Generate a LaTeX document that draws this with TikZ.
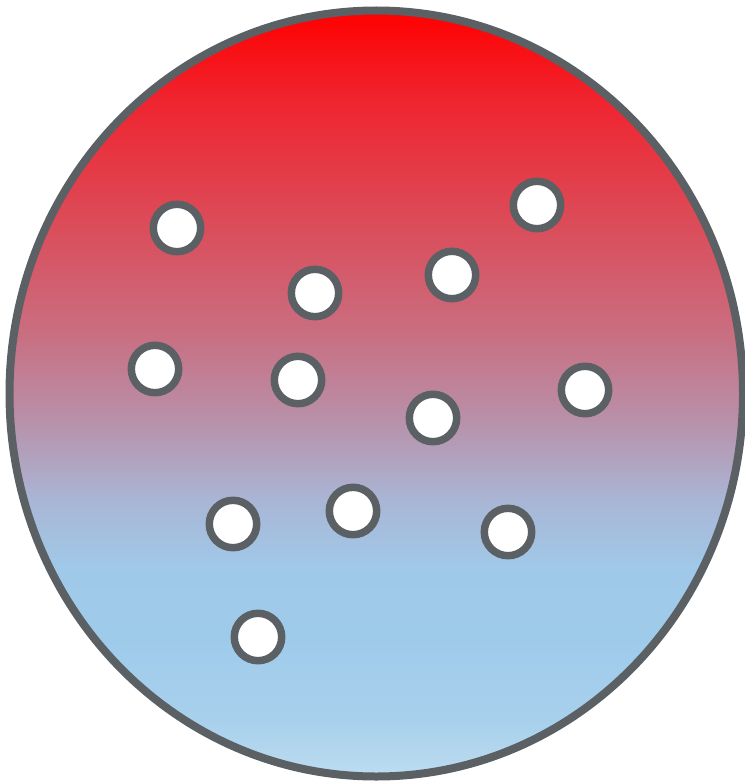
\documentclass[tikz,border=0pt]{standalone}
\definecolor{rimgray}{HTML}{5A6063}
\definecolor{c0}{HTML}{BCDCF0}
\definecolor{c1}{HTML}{A8D0EC}
\definecolor{c2}{HTML}{9FCBEB}
\definecolor{c3}{HTML}{A0C9E9}
\definecolor{c4}{HTML}{A9B6D5}
\definecolor{c5}{HTML}{B891AA}
\definecolor{c6}{HTML}{C96E80}
\definecolor{c7}{HTML}{DF4552}
\definecolor{c8}{HTML}{EF2530}
\definecolor{c9}{HTML}{FF0000}
\pgfdeclareverticalshading{redblue}{100bp}{
 color(0bp)=(c0); color(25bp)=(c0); color(28.7bp)=(c1); color(33.9bp)=(c2);
 color(38.5bp)=(c3); color(43bp)=(c4); color(48.2bp)=(c5); color(54bp)=(c6);
 color(62.5bp)=(c7); color(69bp)=(c8); color(75bp)=(c9); color(100bp)=(c9)}
\tikzset{
  bigdisc/.style={draw=rimgray, line width=8, shading=redblue},
  bubble/.style={circle, draw=rimgray, fill=white, line width=7.5, minimum size=47.4, inner sep=0pt, outer sep=0pt}
}
\begin{document}
\begin{tikzpicture}[x=1pt,y=-1pt]
\useasboundingbox (0,0) rectangle (744,781);
\path[bigdisc] (376.25,393.5) ellipse [x radius=366.75, y radius=383];
\node[bubble] (b1) at (177,228) {};
\node[bubble] (b2) at (537,205) {};
\node[bubble] (b3) at (315,293) {};
\node[bubble] (b4) at (452,275) {};
\node[bubble] (b5) at (155,369) {};
\node[bubble] (b6) at (298,380) {};
\node[bubble] (b7) at (585,390) {};
\node[bubble] (b8) at (433,418) {};
\node[bubble] (b9) at (233,524) {};
\node[bubble] (b10) at (353,511) {};
\node[bubble] (b11) at (508,532) {};
\node[bubble] (b12) at (258,637) {};
\end{tikzpicture}
\end{document}
